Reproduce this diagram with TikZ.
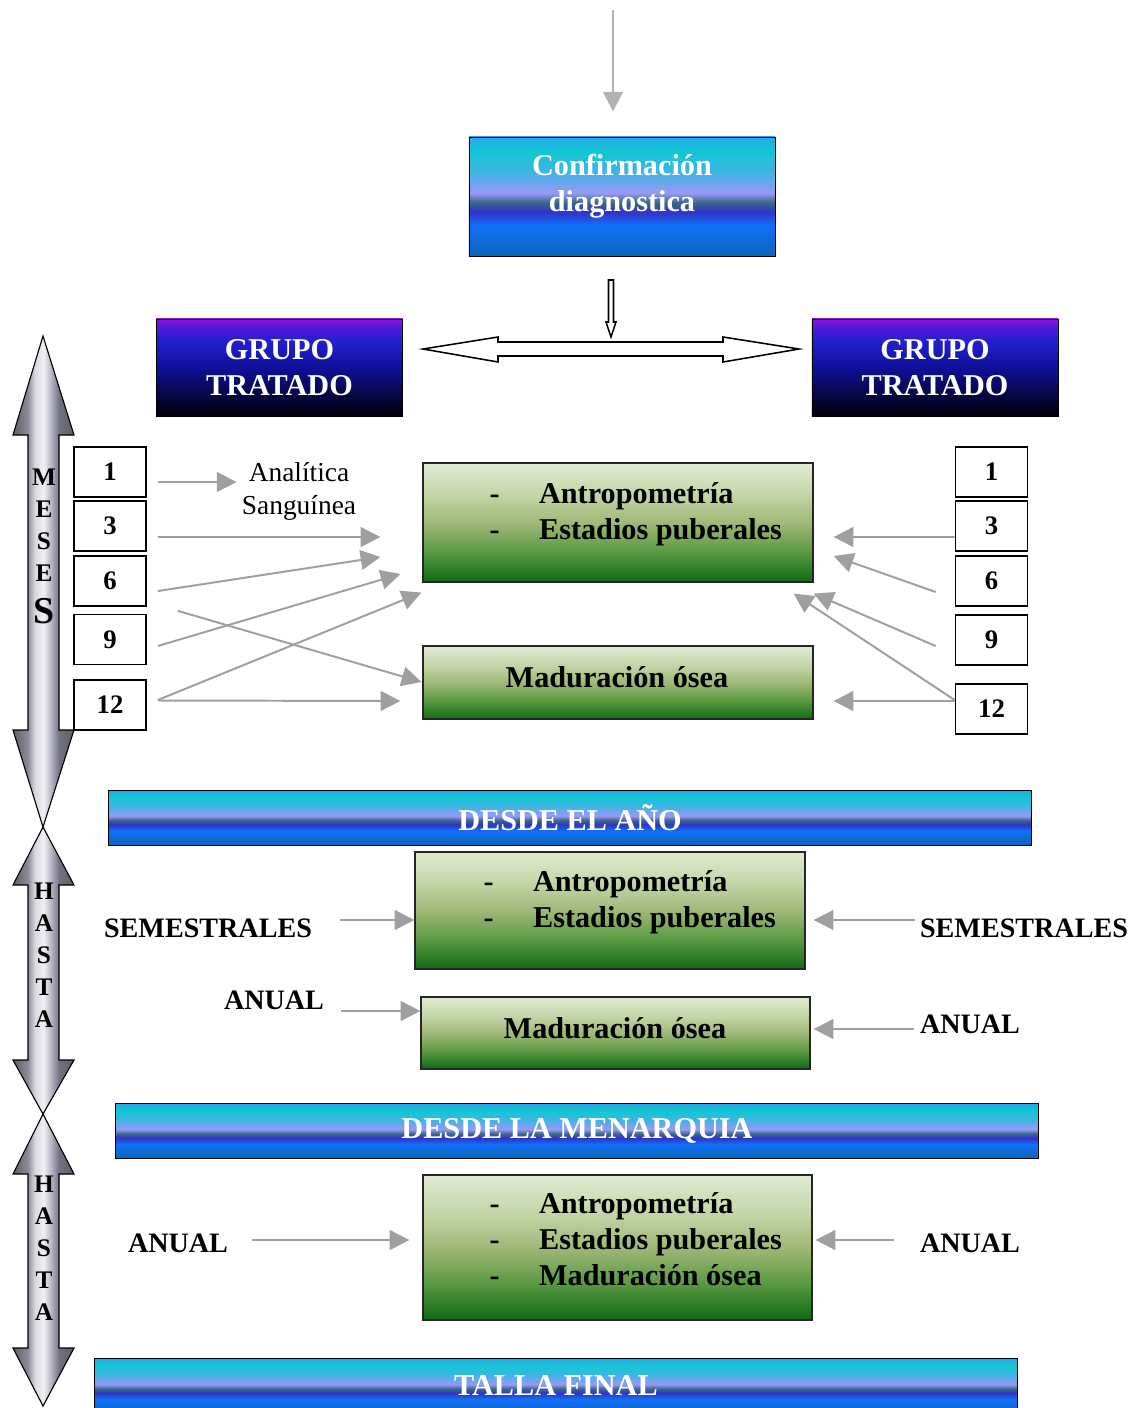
\documentclass[tikz,border=0pt]{standalone}
\usepackage{fontspec}
\setmainfont{Liberation Serif}
\usetikzlibrary{arrows.meta,calc,positioning}

\definecolor{oceanA}{HTML}{28A4EC}
\definecolor{oceanB}{HTML}{10C8D2}
\definecolor{oceanC}{HTML}{40B4E4}
\definecolor{oceanD}{HTML}{9898F8}
\definecolor{oceanE}{HTML}{386888}
\definecolor{oceanF}{HTML}{3232C8}
\definecolor{oceanG}{HTML}{1070F8}
\definecolor{oceanH}{HTML}{0C64B8}
\definecolor{nightA}{HTML}{8C14D4}
\definecolor{nightB}{HTML}{4A1AD8}
\definecolor{nightC}{HTML}{2020CC}
\definecolor{nightD}{HTML}{10109A}
\definecolor{nightE}{HTML}{080850}
\definecolor{nightF}{HTML}{000008}
\definecolor{meadowA}{HTML}{E0EAD2}
\definecolor{meadowB}{HTML}{C4D6A8}
\definecolor{meadowC}{HTML}{A0B878}
\definecolor{meadowD}{HTML}{5C9A44}
\definecolor{meadowE}{HTML}{106A14}
\definecolor{silverA}{HTML}{606068}
\definecolor{silverB}{HTML}{8A8A98}
\definecolor{silverC}{HTML}{D8D8E0}
\definecolor{silverD}{HTML}{F0F0F4}
\definecolor{silverE}{HTML}{B8B8C8}
\definecolor{silverF}{HTML}{707080}

\pgfdeclareverticalshading{ocean}{100bp}{color(0bp)=(oceanH); color(25bp)=(oceanH);
  color(38bp)=(oceanG); color(43.5bp)=(oceanF); color(47.5bp)=(oceanE); color(51.5bp)=(oceanD);
  color(60bp)=(oceanC); color(69bp)=(oceanB); color(75bp)=(oceanA); color(100bp)=(oceanA)}
\pgfdeclareverticalshading{night}{100bp}{color(0bp)=(nightF); color(25bp)=(nightF);
  color(38bp)=(nightE); color(50bp)=(nightD); color(63bp)=(nightC); color(70bp)=(nightB);
  color(75bp)=(nightA); color(100bp)=(nightA)}
\pgfdeclareverticalshading{meadow}{100bp}{color(0bp)=(meadowE); color(25bp)=(meadowE);
  color(38bp)=(meadowD); color(50bp)=(meadowC); color(62bp)=(meadowB); color(75bp)=(meadowA);
  color(100bp)=(meadowA)}
\pgfdeclarehorizontalshading{silver}{100bp}{color(0bp)=(silverA); color(25bp)=(silverA);
  color(37bp)=(silverB); color(43bp)=(silverC); color(50bp)=(silverD); color(56bp)=(silverE);
  color(63bp)=(silverF); color(75bp)=(silverA); color(100bp)=(silverA)}

\begin{document}
\begin{tikzpicture}
    [x=0.025cm, y=-0.025cm,
    big/.style = {font=\bfseries\fontsize{21.5}{25.6}\selectfont},
    ocean box/.style = {big, draw=black, semithick, shade, shading=ocean, text=white,
      align=center, inner sep=0pt},
    night box/.style = {big, draw=black, semithick, shade, shading=night, text=white,
      align=center, minimum width=6.15cm, minimum height=2.425cm},
    meadow box/.style = {big, draw=black!85, thick, shade, shading=meadow, inner sep=0pt,
      minimum width=9.75cm},
    item list/.style = {big, inner sep=0pt, anchor=west},
    month/.style = {draw, line width=1.2pt, fill=white, inner sep=0pt,
      minimum width=1.8cm, minimum height=1.25cm, font=\bfseries\fontsize{19}{22}\selectfont},
    when/.style = {inner sep=0pt, font=\bfseries\fontsize{20}{24}\selectfont},
    axis letter/.style = {inner sep=0pt, font=\bfseries\fontsize{18}{18}\selectfont},
    silver arrow/.style = {draw=black, thick, shade, shading=silver},
    hollow/.style = {draw=black, line width=1.1pt, fill=white},
    post/.style = {->, >={Triangle[length=14pt, width=14pt]}, draw=gray!75, line width=1.4pt}]

    \useasboundingbox (0,0) rectangle (1133,1408);
    \clip (0,0) rectangle (1133,1408);

    % time axis on the left
    \foreach \tp/\ha/\hb/\bt in {336/435/730/827, 827/885/1060/1114, 1114/1174/1348/1406}
      \draw[silver arrow] (43,\tp) -- (74,\ha) -- (59,\ha) -- (59,\hb) -- (74,\hb) -- (43,\bt)
        -- (13,\hb) -- (28,\hb) -- (28,\ha) -- (13,\ha) -- cycle;
    \foreach \l/\y in {M/477, E/509, S/541, E/573}
      \node[axis letter] (meses-\y) at (44,\y) {\l};
    \node[axis letter, font=\bfseries\fontsize{27}{27}\selectfont] (meses-last) at (44,611) {S};
    \foreach \l [count=\i] in {H,A,S,T,A} {
      \node[axis letter] (hasta1-\i) at (44,859+32*\i) {\l};
      \node[axis letter] (hasta2-\i) at (44,1152+32*\i) {\l};
    }

    % diagnosis and groups
    \node[ocean box, minimum width=7.65cm, minimum height=2.975cm] (confirm) at (622,196.5) {};
    \node[big, text=white, align=center, inner sep=0pt] (confirm-txt) at (622,186)
      {Confirmación\\diagnostica};
    \coordinate (entry) at (613,10);
    \draw[post, draw=gray!60] (entry) -- ($(confirm.north)+(-9,-25)$);
    \draw[hollow] (608.5,280) -- (613.5,280) -- (613.5,322) -- (616,322) -- (611,337)
      -- (606,322) -- (608.5,322) -- cycle;
    \node[night box] (grupo-l) at (279.5,367.5) {GRUPO\\TRATADO};
    \node[night box] (grupo-r) at (935,367.5) {GRUPO\\TRATADO};
    \draw[hollow] (423,349) -- (498,337) -- (498,342) -- (723,342) -- (723,337) -- (799,349)
      -- (723,362) -- (723,356) -- (498,356) -- (498,362) -- cycle;

    % first year
    \foreach \n/\y in {1/472, 3/526, 6/581, 9/639.5, 12/705}
      \node[month] (L\n) at (110,\y) {\n};
    \foreach \n/\y in {1/472, 3/526, 6/581, 9/640, 12/709}
      \node[month] (R\n) at (991.5,\y) {\n};
    \node[inner sep=0pt, align=center, font=\fontsize{19.5}{23.4}\selectfont] (analitica)
      at (299,491) {Analítica\\Sanguínea};
    \node[meadow box, minimum height=2.975cm] (antro1) at (618,522.5) {};
    \node[item list] (antro1-txt) at ($(antro1.west)+(67,-8)$)
      {\begin{tabular}{@{}l@{\hspace{28pt}}l@{}} - & Antropometría\\ - & Estadios puberales\end{tabular}};
    \node[meadow box, minimum height=1.825cm] (madur1) at (618,682.5) {};
    \node[big, inner sep=0pt] (madur1-txt) at (617,677) {Maduración ósea};

    \draw[post] ($(L1.east)+(11,10)$) -- ($(analitica.west)+(-5,-9)$);
    \draw[post] ($(L3.east)+(11,11)$) -- ($(antro1.west)+(-42,14.5)$);
    \draw[post] ($(L6.east)+(11,10)$) -- ($(antro1.west)+(-42,34.5)$);
    \draw[post] ($(L9.east)+(11,6.5)$) -- ($(antro1.west)+(-22,51.5)$);
    \draw[post] ($(L6.south east)+(31,4)$) -- ($(madur1.west)+(-1,-0.5)$);
    \draw[post] ($(L12.east)+(11,-5)$) -- ($(antro1.south west)+(-1,10)$);
    \draw[post] ($(L12.east)+(11,-4.5)$) -- ($(madur1.west)+(-22,18.5)$);

    \draw[post] ($(R3.west)+(0,11)$) -- ($(antro1.east)+(20,14.5)$);
    \draw[post] ($(R6.west)+(-19,11)$) -- ($(antro1.east)+(20,33.5)$);
    \draw[post] ($(R9.west)+(-19,6)$) -- ($(antro1.south east)+(0,11)$);
    \draw[post] ($(R12.west)+(0,-9)$) -- ($(antro1.south east)+(-20,11)$);
    \draw[post] ($(R12.west)+(0,-8)$) -- ($(madur1.east)+(20,18.5)$);

    % from the first year
    \node[ocean box, minimum width=23.05cm, minimum height=1.375cm] (desde-ano) at (570,817.5)
      {DESDE EL AÑO};
    \node[meadow box, minimum height=2.925cm] (antro2) at (610,910.5) {};
    \node[item list] (antro2-txt) at ($(antro2.west)+(69,-8)$)
      {\begin{tabular}{@{}l@{\hspace{28pt}}l@{}} - & Antropometría\\ - & Estadios puberales\end{tabular}};
    \node[meadow box, minimum width=9.725cm, minimum height=1.8cm] (madur2) at (615.5,1033) {};
    \node[big, inner sep=0pt] (madur2-txt) at (615,1028) {Maduración ósea};
    \node[when] (sem-l) at (208,928) {SEMESTRALES};
    \node[when] (sem-r) at (1024,928) {SEMESTRALES};
    \node[when] (anual-l) at (274,1000) {ANUAL};
    \node[when] (anual-r) at (970,1024) {ANUAL};
    \draw[post] ($(sem-l.east)+(28,-8)$) -- ($(antro2.west)+(0,9.5)$);
    \draw[post] ($(sem-r.west)+(-5,-8)$) -- ($(antro2.east)+(8,9.5)$);
    \draw[post] ($(anual-l.east)+(17,11)$) -- ($(madur2.west)+(0,-22)$);
    \draw[post] ($(anual-r.west)+(-6,5)$) -- ($(madur2.east)+(3,-4)$);

    % from menarche
    \node[ocean box, minimum width=23.05cm, minimum height=1.375cm] (menarquia) at (577,1131)
      {DESDE LA MENARQUIA};
    \node[meadow box, minimum width=9.725cm, minimum height=3.625cm] (antro3) at (617.5,1247.5) {};
    \node[item list] (antro3-txt) at ($(antro3.west)+(67,-5)$)
      {\begin{tabular}{@{}l@{\hspace{28pt}}l@{}} - & Antropometría\\ - & Estadios puberales\\
        - & Maduración ósea\end{tabular}};
    \node[when] (anual-l2) at (178,1243) {ANUAL};
    \node[when] (anual-r2) at (970,1243) {ANUAL};
    \draw[post] ($(anual-l2.east)+(24,-3)$) -- ($(antro3.west)+(-13,-7.5)$);
    \draw[post] ($(anual-r2.west)+(-26,-3)$) -- ($(antro3.east)+(3,-7.5)$);

    \node[ocean box, minimum width=23.05cm, minimum height=1.375cm] (talla) at (556,1386)
      {TALLA FINAL};
  \end{tikzpicture}
\end{document}
